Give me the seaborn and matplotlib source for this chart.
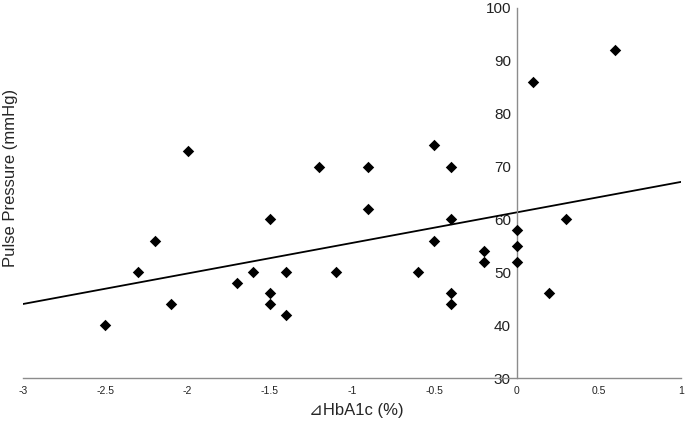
import matplotlib
matplotlib.use("Agg")
import matplotlib.pyplot as plt
import seaborn as sns
import pandas as pd

hba1c_change = [-2.5, -2.3, -2.2, -2.1, -2.0, -1.7, -1.6, -1.5, -1.5, -1.5,
                -1.4, -1.4, -1.2, -1.1, -0.9, -0.9, -0.6, -0.5, -0.5, -0.4,
                -0.4, -0.4, -0.4, -0.2, -0.2, 0.0, 0.0, 0.0, 0.1, 0.2, 0.3, 0.6]
pulse_pressure = [40, 50, 56, 44, 73, 48, 50, 60, 46, 44,
                  50, 42, 70, 50, 70, 62, 50, 74, 56, 70,
                  60, 46, 44, 54, 52, 58, 55, 52, 86, 46, 60, 92]

trend_x = [-3, 1]
trend_y = [44.0, 67.1]

x_ticks = [-3, -2.5, -2, -1.5, -1, -0.5, 0, 0.5, 1]
x_tick_labels = ["-3", "-2.5", "-2", "-1.5", "-1", "-0.5", "0", "0.5", "1"]
y_ticks = [30, 40, 50, 60, 70, 80, 90, 100]

df = pd.DataFrame({"dHbA1c": hba1c_change, "PP": pulse_pressure})

sns.set_style("white")
plt.rcParams['font.family'] = ['Liberation Sans', 'DejaVu Sans']

fig = plt.figure(figsize=(6.85, 4.23), dpi=100)
ax = fig.add_axes([23/685, 1 - 378/423, 658/685, 370/423])

sns.lineplot(x=trend_x, y=trend_y, ax=ax, color="black", linewidth=1.3)
sns.scatterplot(data=df, x="dHbA1c", y="PP", ax=ax, marker="D", s=34,
                color="black", edgecolor="black", linewidth=0, zorder=3)

ax.set_xlim(-3, 1)
ax.set_ylim(30, 100)
ax.set_xticks(x_ticks)
ax.set_xticklabels(x_tick_labels, fontsize=7.5)
ax.set_yticks(y_ticks)
ax.tick_params(axis="y", labelsize=11, length=0, pad=4, labelcolor="#222222")
ax.tick_params(axis="x", length=0, pad=6, labelcolor="#222222")

for side in ["top", "right"]:
    ax.spines[side].set_visible(False)
ax.spines["left"].set_position(("data", 0))
for side in ["left", "bottom"]:
    ax.spines[side].set_color("#8c8c8c")
    ax.spines[side].set_linewidth(1.0)

ax.set_xlabel("⊿HbA1c (%)", fontsize=12)
ax.set_ylabel("Pulse Pressure (mmHg)", fontsize=12)
ax.xaxis.set_label_coords(0.507, -0.068)
ax.yaxis.set_label_coords(-0.008, 0.54)

fig.savefig("out.png", dpi=100)
plt.close(fig)
